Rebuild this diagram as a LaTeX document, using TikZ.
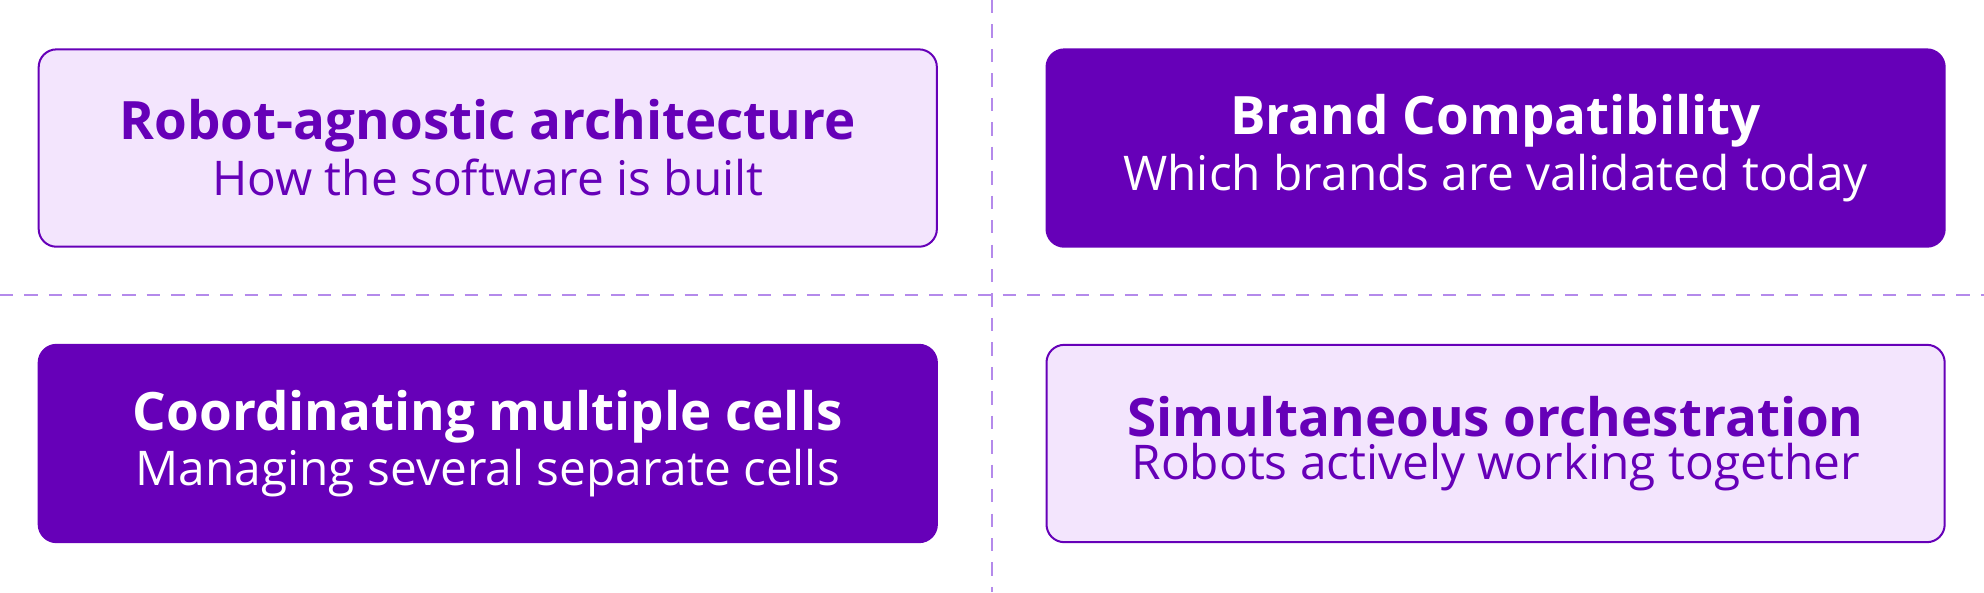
\documentclass[tikz,border=0pt]{standalone}
\usepackage{fontspec}
\setmainfont{Open Sans}
\usetikzlibrary{positioning}
\definecolor{deep}{HTML}{6600B8}
\definecolor{pale}{HTML}{F3E5FD}
\definecolor{guide}{HTML}{B48AEB}
\newcommand{\ttl}[1]{{\fontsize{23.8}{28}\selectfont\bfseries #1}}
\newcommand{\sbt}[1]{{\fontsize{21.5}{26}\selectfont #1}}

\begin{document}
\begin{tikzpicture}[
		x=0.02cm, y=-0.02cm,
		light/.style={draw=deep, line width=0.9pt, fill=pale, text=deep, rectangle, rounded corners=8pt, minimum width=14.2cm, minimum height=3.12cm, align=center},
		dark/.style={draw=deep, line width=0.9pt, fill=deep, text=white, rectangle, rounded corners=8pt, minimum width=14.2cm, minimum height=3.12cm, align=center},
	]
	\useasboundingbox (0,0) rectangle (1568,468);
	\draw[guide, line width=0.8pt, dash pattern=on 6pt off 5pt] (784,0) -- (784,468);
	\draw[guide, line width=0.8pt, dash pattern=on 6pt off 5pt] (0,233) -- (1568,233);

	\node[light] (architecture) at (385.5,117) {\ttl{Robot-agnostic architecture} \\[2pt] \sbt{How the software is built}};
	\node[dark] (brands) at (1182,117) {\ttl{Brand Compatibility} \\[2pt] \sbt{Which brands are validated today}};
	\node[dark] (cells) at (385.5,350.5) {\ttl{Coordinating multiple cells} \\[2pt] \sbt{Managing several separate cells}};
	\node[light] (orchestration) at (1182,350.5) {\ttl{Simultaneous orchestration} \\[2pt] \sbt{Robots actively working together}};
\end{tikzpicture}
\end{document}
